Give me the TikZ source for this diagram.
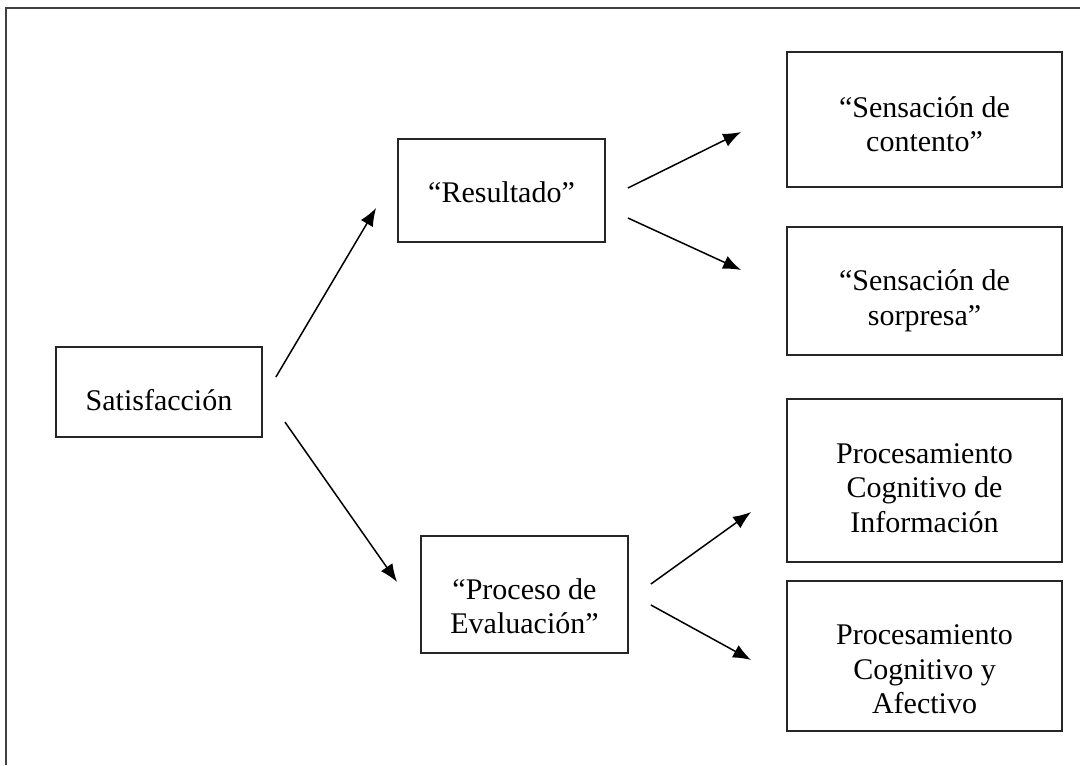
\documentclass[tikz,border=0pt]{standalone}
\usepackage{fontspec}
\setmainfont{Liberation Serif}
\usetikzlibrary{arrows.meta,calc}
\newcommand\lowerby[1]{\rule{0pt}{\dimexpr 10.3pt+#1\relax}}
\begin{document}
\begin{tikzpicture}[x=0.5pt,y=-0.5pt,
  box/.style={draw=black!85,line width=0.9pt,rectangle,align=center,inner sep=0pt,
    font=\fontsize{15pt}{17.3pt}\selectfont},
  conn/.style={line width=0.75pt,-{Latex[length=9pt,width=7pt]}}]
\useasboundingbox (0,0) rectangle (1080,765);
\draw[black!75,line width=1pt] (1080,8) -- (6,8) -- (6,765);
\node[box,minimum width=103pt,minimum height=45pt] (sat) at (159,392) {\lowerby{8pt}Satisfacción};
\node[box,minimum width=103.5pt,minimum height=51.5pt] (res) at (501.5,190.5) {\lowerby{2pt}“Resultado”};
\node[box,minimum width=103.5pt,minimum height=58.5pt] (eval) at (524.5,594.5) {\lowerby{12pt}“Proceso de\\Evaluación”};
\node[box,minimum width=137.5pt,minimum height=67.5pt] (cont) at (924.5,119.5) {\lowerby{5pt}“Sensación de\\contento”};
\node[box,minimum width=137.5pt,minimum height=64pt] (sorp) at (924.5,291) {\lowerby{10pt}“Sensación de\\sorpresa”};
\node[box,minimum width=137.5pt,minimum height=81.5pt] (info) at (924.5,480.5) {\lowerby{7pt}Procesamiento\\Cognitivo de\\Información};
\node[box,minimum width=137.5pt,minimum height=75pt] (afec) at (924.5,656) {\lowerby{13pt}Procesamiento\\Cognitivo y\\Afectivo};
\draw[conn] ($(sat.east)+(13,-15)$) -- ($(res.west)+(-21,17.5)$);
\draw[conn] ($(sat.east)+(22,30)$) -- ($(eval.west)+(-23,-12.5)$);
\draw[conn] ($(res.east)+(22,-2.5)$) -- ($(cont.west)+(-45,12.5)$);
\draw[conn] ($(res.east)+(22,27.5)$) -- ($(sorp.west)+(-45,-21)$);
\draw[conn] ($(eval.east)+(22,-10.5)$) -- ($(info.west)+(-35,31.5)$);
\draw[conn] ($(eval.east)+(22,10.5)$) -- ($(afec.west)+(-35,4)$);
\end{tikzpicture}
\end{document}
